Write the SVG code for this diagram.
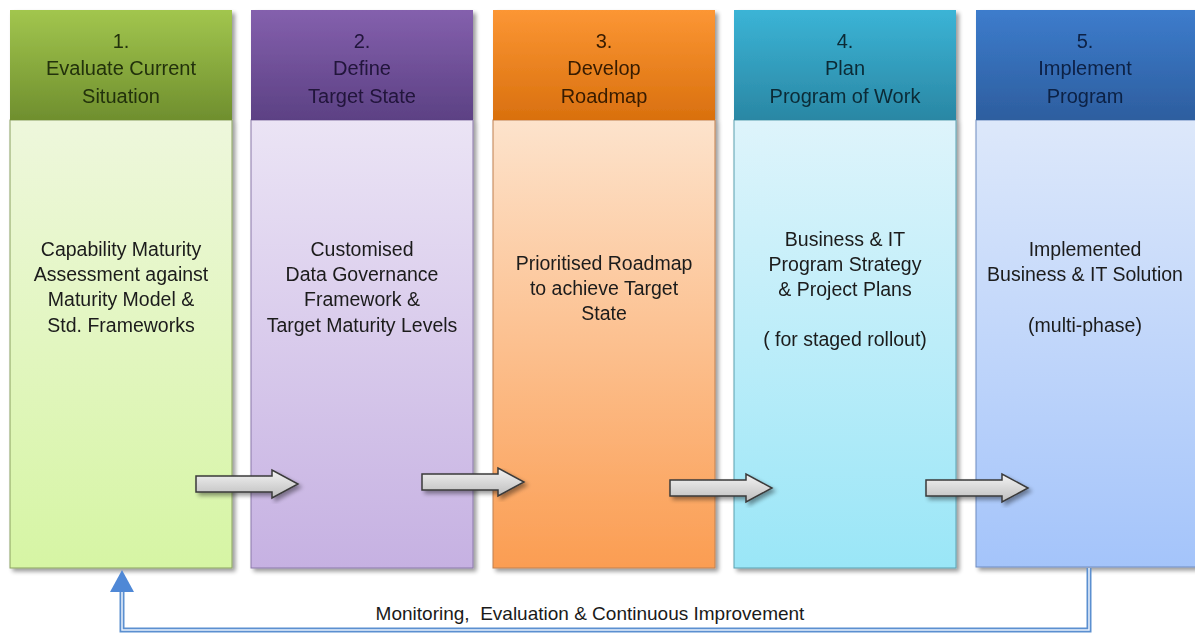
<svg xmlns="http://www.w3.org/2000/svg" width="1195" height="634" viewBox="0 0 1195 634">
<defs>
<linearGradient id="h1" x1="0" y1="0" x2="0" y2="1"><stop offset="0" stop-color="#a2c64e"/><stop offset="1" stop-color="#6f8f2e"/></linearGradient>
<linearGradient id="b1" x1="0" y1="0" x2="0" y2="1"><stop offset="0" stop-color="#eef7dc"/><stop offset="1" stop-color="#d6f5a4"/></linearGradient>
<linearGradient id="h2" x1="0" y1="0" x2="0" y2="1"><stop offset="0" stop-color="#8460ad"/><stop offset="1" stop-color="#5c4184"/></linearGradient>
<linearGradient id="b2" x1="0" y1="0" x2="0" y2="1"><stop offset="0" stop-color="#ebe4f5"/><stop offset="1" stop-color="#c6b1e2"/></linearGradient>
<linearGradient id="h3" x1="0" y1="0" x2="0" y2="1"><stop offset="0" stop-color="#fc9634"/><stop offset="1" stop-color="#d9700e"/></linearGradient>
<linearGradient id="b3" x1="0" y1="0" x2="0" y2="1"><stop offset="0" stop-color="#fde3cc"/><stop offset="1" stop-color="#fb9d52"/></linearGradient>
<linearGradient id="h4" x1="0" y1="0" x2="0" y2="1"><stop offset="0" stop-color="#3bb4d6"/><stop offset="1" stop-color="#2a87a4"/></linearGradient>
<linearGradient id="b4" x1="0" y1="0" x2="0" y2="1"><stop offset="0" stop-color="#def4fb"/><stop offset="1" stop-color="#9ae6f7"/></linearGradient>
<linearGradient id="h5" x1="0" y1="0" x2="0" y2="1"><stop offset="0" stop-color="#3d7ccc"/><stop offset="1" stop-color="#2d5e9f"/></linearGradient>
<linearGradient id="b5" x1="0" y1="0" x2="0" y2="1"><stop offset="0" stop-color="#dde8fa"/><stop offset="1" stop-color="#a4c4fa"/></linearGradient>
<linearGradient id="ga" x1="0" y1="0" x2="0" y2="1"><stop offset="0" stop-color="#f4f4f4"/><stop offset="1" stop-color="#bdbdbd"/></linearGradient>
<filter id="sh" x="-10%" y="-10%" width="130%" height="130%"><feGaussianBlur in="SourceAlpha" stdDeviation="2"/><feOffset dx="3" dy="3"/><feComponentTransfer><feFuncA type="linear" slope="0.4"/></feComponentTransfer><feMerge><feMergeNode/><feMergeNode in="SourceGraphic"/></feMerge></filter>
<path id="arr" d="M0,6 H76 V0 L102,14 L76,28 V22 H0 Z"/>
</defs>
<style>
.ht{font-family:"Liberation Sans",Arial,sans-serif;font-size:20px;text-anchor:middle}
.bt{font-family:"Liberation Sans",Arial,sans-serif;font-size:19.5px;text-anchor:middle;fill:#1a1a1a}
.gar{fill:url(#ga);stroke:#3a3a3a;stroke-width:1.5;filter:url(#sh)}
.lbl{font-family:"Liberation Sans",Arial,sans-serif;font-size:19px;text-anchor:middle;fill:#1a1a1a}
</style>
<rect width="1195" height="634" fill="#ffffff"/>

<g id="step1" filter="url(#sh)">
<rect x="10" y="120" width="222" height="448" fill="url(#b1)" stroke="#8aa060" stroke-width="1"/>
<rect x="10" y="10" width="222" height="110" fill="url(#h1)"/>
<text class="ht" fill="#22300a"><tspan x="121" y="48">1.</tspan><tspan x="121" y="75">Evaluate Current</tspan><tspan x="121" y="103">Situation</tspan></text>
<text class="bt"><tspan x="121" y="256">Capability Maturity</tspan><tspan x="121" y="281">Assessment against</tspan><tspan x="121" y="306">Maturity Model &amp;</tspan><tspan x="121" y="332">Std. Frameworks</tspan></text>
</g>

<g id="step2" filter="url(#sh)">
<rect x="251" y="120" width="222" height="448" fill="url(#b2)" stroke="#8a78a8" stroke-width="1"/>
<rect x="251" y="10" width="222" height="110" fill="url(#h2)"/>
<text class="ht" fill="#20143a"><tspan x="362" y="48">2.</tspan><tspan x="362" y="75">Define</tspan><tspan x="362" y="103">Target State</tspan></text>
<text class="bt"><tspan x="362" y="256">Customised</tspan><tspan x="362" y="281">Data Governance</tspan><tspan x="362" y="306">Framework &amp;</tspan><tspan x="362" y="332">Target Maturity Levels</tspan></text>
</g>

<g id="step3" filter="url(#sh)">
<rect x="493" y="120" width="222" height="448" fill="url(#b3)" stroke="#c08050" stroke-width="1"/>
<rect x="493" y="10" width="222" height="110" fill="url(#h3)"/>
<text class="ht" fill="#381c02"><tspan x="604" y="48">3.</tspan><tspan x="604" y="75">Develop</tspan><tspan x="604" y="103">Roadmap</tspan></text>
<text class="bt"><tspan x="604" y="270">Prioritised Roadmap</tspan><tspan x="604" y="295">to achieve Target</tspan><tspan x="604" y="320">State</tspan></text>
</g>

<g id="step4" filter="url(#sh)">
<rect x="734" y="120" width="222" height="448" fill="url(#b4)" stroke="#5aa0b0" stroke-width="1"/>
<rect x="734" y="10" width="222" height="110" fill="url(#h4)"/>
<text class="ht" fill="#0a2a36"><tspan x="845" y="48">4.</tspan><tspan x="845" y="75">Plan</tspan><tspan x="845" y="103">Program of Work</tspan></text>
<text class="bt"><tspan x="845" y="246">Business &amp; IT</tspan><tspan x="845" y="271">Program Strategy</tspan><tspan x="845" y="296">&amp; Project Plans</tspan><tspan x="845" y="346">( for staged rollout)</tspan></text>
</g>

<g id="step5" filter="url(#sh)">
<rect x="976" y="120" width="225" height="447" fill="url(#b5)" stroke="#6f8cc0" stroke-width="1"/>
<rect x="976" y="10" width="225" height="110" fill="url(#h5)"/>
<text class="ht" fill="#0c2044"><tspan x="1085" y="48">5.</tspan><tspan x="1085" y="75">Implement</tspan><tspan x="1085" y="103">Program</tspan></text>
<text class="bt"><tspan x="1085" y="256">Implemented</tspan><tspan x="1085" y="281">Business &amp; IT Solution</tspan><tspan x="1085" y="332">(multi-phase)</tspan></text>
</g>

<g id="connectors">
<use href="#arr" class="gar" x="196" y="470"/>
<use href="#arr" class="gar" x="422" y="468"/>
<use href="#arr" class="gar" x="670" y="474"/>
<use href="#arr" class="gar" x="926" y="474"/>
<path d="M1089,568 V630 H122 V590" fill="none" stroke="#5b8fd0" stroke-width="5"/>
<path d="M1089,568 V630 H122 V590" fill="none" stroke="#eaf2fc" stroke-width="1.5"/>
<path d="M122,570 L134,592 H110 Z" fill="#4f88d6"/>
<text class="lbl" x="590" y="620" xml:space="preserve">Monitoring,  Evaluation &amp; Continuous Improvement</text>
</g>
</svg>
